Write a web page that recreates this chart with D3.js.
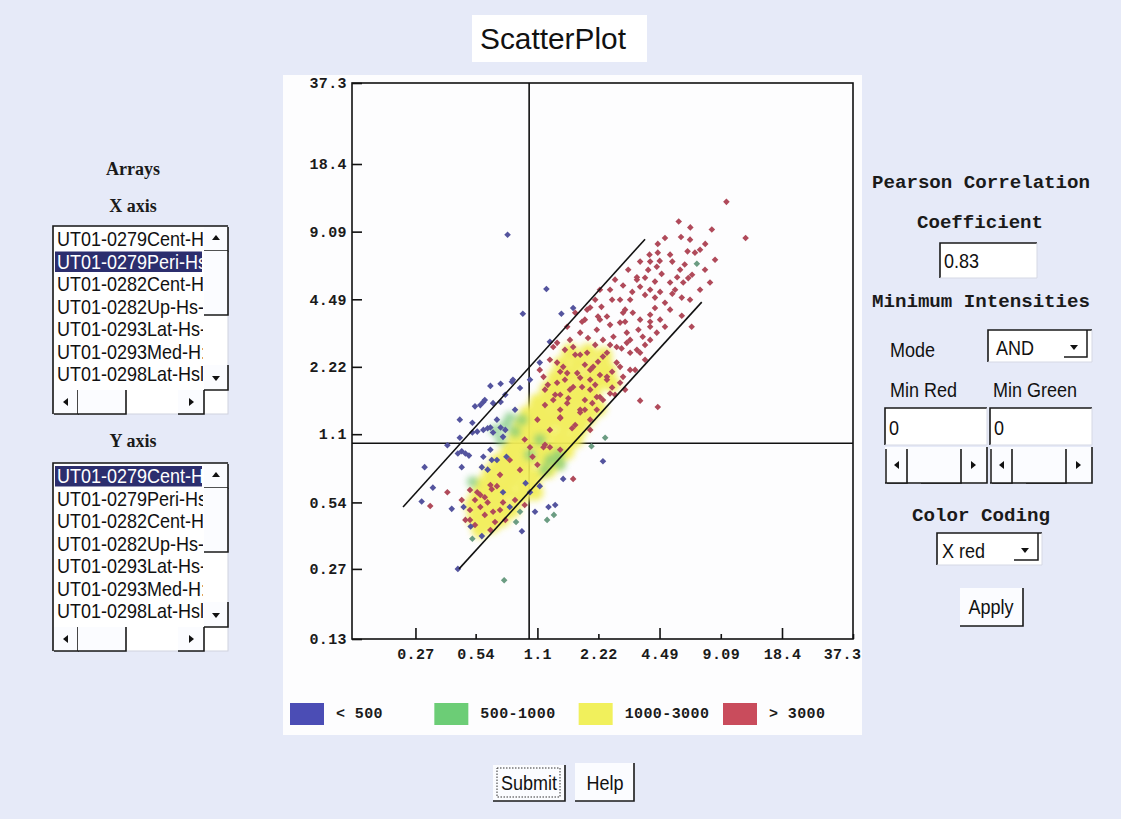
<!DOCTYPE html>
<html>
<head>
<meta charset="utf-8">
<script src="https://cdn.jsdelivr.net/npm/d3@7"></script>
<style>
body { margin: 0; background: #e6eaf8; }
</style>
</head>
<body>
<script>
// tick labels (the x axis has no label at its origin)
var yTickValues = [0.13, 0.27, 0.54, 1.1, 2.22, 4.49, 9.09, 18.4, 37.3];
var xTickValues = [0.27, 0.54, 1.1, 2.22, 4.49, 9.09, 18.4, 37.3];

// legend
var legendLabels = ["< 500", "500-1000", "1000-3000", "> 3000"];
var legendColors = ["#4b4db5", "#6ccd76", "#f1f05c", "#c94c5c"];

// arrays in the two list boxes
var arrayNames = ["UT01-0279Cent-H", "UT01-0279Peri-Hs", "UT01-0282Cent-H", "UT01-0282Up-Hs-",
  "UT01-0293Lat-Hs-", "UT01-0293Med-H:", "UT01-0298Lat-Hsl"];

var pearson = "0.83";

// reference lines: ratio 1 cross and the two fold lines
var centerValue = 1;
var foldLines = [[[0.234, 0.515], [3.8, 8.4]], [[0.446, 0.27], [7.3, 4.36]]];

// spots, [x, y]
var redPoints = [[9.7,12.4],[5.6,10.1],[6.4,9.5],[8.2,9.3],[5.75,8.6],[12.1,8.5],[7.6,8.0],[4.4,8.0],
  [4.0,7.15],[4.4,7.3],[5.07,7.15],[6.2,7.4],[6.75,7.3],[4.5,6.7],[6.0,6.45],[4.35,6.3],[3.94,6.1],
  [4.6,5.85],[3.46,5.65],[5.5,5.65],[6.53,5.8],[6.25,5.6],[5.07,5.35],[5.9,5.35],[8.03,5.35],
  [3.59,5.12],[4.03,4.96],[4.52,4.85],[3.8,4.7],[4.26,4.57],[5.2,4.76],[5.8,4.57],[4.78,4.33],
  [4.26,4.1],[5.8,3.78],[6.5,3.37],[4.78,3.37],[3.59,3.63],[4.03,3.37],[3.59,1.56],[4.4,1.46],
  [2.95,5.18],[3.46,5.5],[2.54,4.96],[3.2,4.47],[2.85,4.47],[3.02,4.03],[2.02,4.12],[2.3,4.15],
  [1.95,4.03],[2.45,3.75],[2.85,3.52],[3.3,3.9],[2.95,3.9],[3.7,3.04],[4.35,3.17],[3.08,3.17],
  [2.74,2.73],[3.2,2.57],[2.45,2.57],[2.09,2.22],[2.85,2.22],[3.59,2.57],[2.95,2.0],[2.45,1.94],
  [2.02,1.94],[1.66,1.8],[2.26,1.62],[1.8,1.38],[1.38,2.32],[1.55,2.08],[1.32,2.73],[1.55,3.37],
  [1.8,3.17],[2.18,3.27],[2.64,3.04],[3.08,2.85],[3.46,2.65],[1.38,2.85],[1.66,2.73],[1.95,2.57],
  [2.34,2.47],[2.74,2.32],[3.2,2.15],[1.27,2.39],[1.48,2.22],[1.74,2.08],[2.02,2.15],[2.45,2.0],
  [2.85,1.88],[1.18,2.0],[1.38,1.88],[1.6,1.75],[1.84,1.8],[2.18,1.62],[2.54,1.68],[1.13,2.15],
  [1.32,1.57],[1.55,1.52],[1.8,1.42],[2.07,1.52],[2.34,1.57],[1.7,3.9],[1.66,0.69],[1.04,0.87],
  [1.18,0.96],[1.27,0.96],[1.01,0.96],[0.55,0.6],[0.6,0.57],[0.65,0.62],[0.69,0.64],[0.57,0.515],
  [0.62,0.54],[0.66,0.49],[0.74,0.54],[0.6,0.474],[0.536,0.554],[0.675,0.44],[0.506,0.45],
  [0.39,0.6],[0.32,0.52],[1.43,1.3],[2.18,1.42],[2.26,3.63],[1.9,3.63],[2.14,2.79],[2.54,2.79],
  [1.7,2.52],[1.51,2.65],[1.9,2.27],[2.26,2.04],[2.69,1.66],[3.02,1.75],[2.02,1.75],[1.43,1.66],
  [1.2,1.75],[1.7,1.21],[2.02,1.28],[1.43,1.42],[3.2,2.94],[3.8,2.79],[4.03,3.82],[4.52,3.63],
  [5.07,4.03],[4.03,2.94],
  [2.26,4.96],[2.69,5.51],[3.13,6.11],[3.59,6.65],[4.03,6.65],[3.8,5.62],[4.26,5.4],[3.28,4.85],
  [2.6,4.47],[2.14,4.47],[1.84,3.55],[2.21,3.75],[2.54,3.44],[3.02,3.55],[3.52,3.27],[4.03,3.55],
  [1.6,2.94],[1.97,3.0],[2.34,2.94],[2.9,2.69],[3.8,2.39],[3.39,2.15],[1.8,2.52],[2.21,2.34],
  [2.6,2.11],[1.51,1.94],[1.8,1.98],[2.14,1.84],[2.6,1.79],[1.24,1.84],[1.43,2.11],[1.35,1.66],
  [1.57,1.6],[1.9,1.57],[1.2,1.49],[1.43,1.31],[1.64,1.17],[1.9,1.42],[2.02,1.15],[1.27,1.15],
  [1.1,1.28],[0.95,1.04],[1.2,0.985],[1.43,0.935],[1.1,0.8],[0.9,0.758],[0.8,0.84],[0.715,0.72],
  [0.64,0.648],[0.57,0.584],[0.506,0.499],[0.536,0.427],[0.64,0.405],[0.76,0.45],[0.715,0.499],
  [0.85,0.554],[0.95,0.526],[0.506,0.615],[0.46,0.554],[0.48,0.45],
  [7.16,7.53],[8.51,6.78],[7.16,4.96],[6.38,4.47],[5.37,4.96],[6.38,8.36],[4.78,8.5],[5.2,6.65],
  [5.69,6.11],[7.58,6.11]];

var bluePoints = [[0.78,8.8],[1.22,5.0],[1.45,3.86],[0.93,3.86],[1.27,2.88],[1.13,2.32],[0.64,1.82],
  [0.72,1.86],[0.82,1.9],[1.01,1.94],[0.9,1.78],[0.83,1.94],[0.57,1.49],[0.6,1.57],[0.66,1.52],
  [0.536,1.47],[0.59,1.54],[0.72,1.54],[0.45,1.28],[0.52,1.24],[0.64,1.18],[0.69,1.28],[0.59,1.15],
  [0.66,1.12],[0.72,1.18],[0.76,1.15],[0.39,0.98],[0.45,1.06],[0.52,1.12],[0.55,1.13],[0.62,1.17],
  [0.46,0.92],[0.3,0.78],[0.46,0.78],[0.33,0.63],[0.29,0.545],[0.41,0.505],[0.47,0.515],[0.44,0.9],
  [0.48,0.9],[0.5,0.88],[0.58,0.78],[0.62,0.76],[0.65,0.84],[0.74,0.6],[0.8,0.515],[0.51,0.42],
  [0.58,0.38],[0.44,0.27],[0.92,0.4],[1.07,0.49],[1.25,0.515],[1.35,0.526],[1.48,0.69],[2.34,0.83],
  [0.96,0.66],[1.01,0.6],[1.13,0.64],[0.74,1.07],[0.64,0.935],[0.69,0.84],[0.77,0.87],[0.59,0.87],
  [0.85,1.42],[0.76,1.66],[1.66,4.1]];

var greenPoints = [[6.9,6.5],[2.05,0.97],[0.86,0.44],[1.23,0.45],[1.33,0.474],[0.52,0.37],
  [0.75,0.24],[0.9,0.49],[2.4,1.06]];

// the dense, washed-out part of the cloud
var greenCloud = [[0.76,1.21],[0.85,1.13],[0.72,1.04],[0.8,1.31],[0.92,1.28],[0.675,1.15],
  [1.27,0.84],[1.43,0.8],[1.2,0.758],[1.4,0.888],[1.01,0.888],[0.52,0.67],[1.13,1.04]];

var yellowCloud = [[0.568,0.405],[0.65,0.427],[0.536,0.455],[0.62,0.474],[0.73,0.455],[0.52,0.526],
  [0.6,0.51],[0.7,0.526],[0.82,0.499],[0.555,0.584],[0.65,0.57],[0.77,0.6],[0.9,0.57],[0.58,0.648],
  [0.68,0.655],[0.8,0.67],[0.95,0.635],[1.07,0.6],[0.64,0.735],[0.76,0.758],[0.9,0.745],[1.07,0.71],
  [1.24,0.758],[0.7,0.825],[0.82,0.841],[0.97,0.825],[1.15,0.86],[1.36,0.825],[0.79,0.935],
  [0.92,0.955],[1.1,0.975],[1.3,0.935],[1.53,0.915],[0.85,1.06],[1.01,1.08],[1.2,1.1],[1.43,1.06],
  [1.7,1.04],[0.9,1.2],[1.07,1.22],[1.27,1.25],[1.51,1.2],[1.8,1.17],[0.98,1.36],[1.17,1.39],
  [1.4,1.36],[1.66,1.33],[1.97,1.31],[1.1,1.54],[1.32,1.57],[1.57,1.54],[1.86,1.51],[2.21,1.44],
  [1.24,1.75],[1.48,1.79],[1.76,1.72],[2.09,1.69],[1.35,1.98],[1.6,2.02],[1.9,1.94],[2.26,1.9],
  [2.6,1.86],[1.45,2.27],[1.76,2.29],[2.11,2.2],[2.48,2.15],[1.6,2.6],[1.97,2.6],[2.37,2.5]];

var svg = d3.select("body").append("svg")
  .attr("width", 1121).attr("height", 819)
  .style("display", "block");

var defs = svg.append("defs");
defs.append("filter").attr("id", "soft")
  .attr("x", "-20%").attr("y", "-20%").attr("width", "140%").attr("height", "140%")
  .append("feGaussianBlur").attr("stdDeviation", 3.2);
defs.append("clipPath").attr("id", "plotClip")
  .append("rect").attr("x", 352).attr("y", 83).attr("width", 501).attr("height", 556);

svg.append("rect").attr("width", 1121).attr("height", 819).attr("fill", "#e6eaf8");

var sans = "'Liberation Sans', Arial, sans-serif";
var mono = "'Liberation Mono', 'Courier New', monospace";
var serif = "'Liberation Serif', 'Times New Roman', serif";

// ---------- helpers for the little window widgets ----------
function sunken(x0, y0, w, h) {
  var g = svg.append("g");
  g.append("rect").attr("x", x0).attr("y", y0).attr("width", w).attr("height", h).attr("fill", "#fff");
  g.append("path").attr("d", "M" + x0 + "," + (y0 + h) + "V" + y0 + "H" + (x0 + w))
    .attr("fill", "none").attr("stroke", "#1a1a1a").attr("stroke-width", 1.6);
  g.append("path").attr("d", "M" + (x0 + w) + "," + y0 + "V" + (y0 + h) + "H" + x0)
    .attr("fill", "none").attr("stroke", "#d5d8e4").attr("stroke-width", 1);
  return g;
}
function raised(x0, y0, w, h) {
  var g = svg.append("g");
  g.append("rect").attr("x", x0).attr("y", y0).attr("width", w).attr("height", h).attr("fill", "#fbfcff");
  g.append("path").attr("d", "M" + (x0 + w) + "," + y0 + "V" + (y0 + h) + "H" + x0)
    .attr("fill", "none").attr("stroke", "#1a1a1a").attr("stroke-width", 1.6);
  return g;
}
function arrow(cx, cy, dir) {
  var s = 4;
  var d = {
    up: "M" + (cx - s) + "," + (cy + 2) + "L" + cx + "," + (cy - 3) + "L" + (cx + s) + "," + (cy + 2) + "Z",
    down: "M" + (cx - s) + "," + (cy - 2) + "L" + cx + "," + (cy + 3) + "L" + (cx + s) + "," + (cy - 2) + "Z",
    left: "M" + (cx + 2) + "," + (cy - s) + "L" + (cx - 3) + "," + cy + "L" + (cx + 2) + "," + (cy + s) + "Z",
    right: "M" + (cx - 2) + "," + (cy - s) + "L" + (cx + 3) + "," + cy + "L" + (cx - 2) + "," + (cy + s) + "Z"
  }[dir];
  svg.append("path").attr("d", d).attr("fill", "#111");
}
function uiText(str, x0, y0, anchor) {
  return svg.append("text")
    .attr("transform", "translate(" + x0 + "," + y0 + ") scale(0.9,1)")
    .attr("text-anchor", anchor || "start")
    .attr("font-family", sans).attr("font-size", 20).attr("fill", "#111")
    .text(str);
}
function monoHead(str, cx, y0, w) {
  svg.append("text").attr("x", cx).attr("y", y0).attr("text-anchor", "middle")
    .attr("font-family", mono).attr("font-weight", "bold").attr("font-size", 18)
    .attr("textLength", w).attr("lengthAdjust", "spacingAndGlyphs")
    .attr("fill", "#1a1a1a").text(str);
}
function serifHead(str, cx, y0) {
  svg.append("text").attr("x", cx).attr("y", y0).attr("text-anchor", "middle")
    .attr("font-family", serif).attr("font-weight", "bold").attr("font-size", 18)
    .attr("fill", "#1a1a1a").text(str);
}

// ---------- title ----------
svg.append("rect").attr("x", 472).attr("y", 15).attr("width", 175).attr("height", 47).attr("fill", "#fff");
svg.append("text").attr("x", 553).attr("y", 49).attr("text-anchor", "middle")
  .attr("font-family", sans).attr("font-size", 30).attr("textLength", 146)
  .attr("lengthAdjust", "spacingAndGlyphs").attr("fill", "#111").text("ScatterPlot");

// ---------- plot panel ----------
svg.append("rect").attr("x", 283).attr("y", 75).attr("width", 579).attr("height", 660).attr("fill", "#fdfdfe");

var x = d3.scaleLog().domain([0.13, 18.4, 37.3]).range([352, 782, 853]);
var y = d3.scaleLog().domain([0.13, 18.4, 37.3]).range([639, 164, 83]);

var plot = svg.append("g");
var inner = plot.append("g").attr("clip-path", "url(#plotClip)");

// ratio-1 cross
inner.append("line").attr("x1", x(centerValue)).attr("x2", x(centerValue))
  .attr("y1", y.range()[0]).attr("y2", y.range()[2])
  .attr("stroke", "#111").attr("stroke-width", 1.6);
inner.append("line").attr("y1", y(centerValue)).attr("y2", y(centerValue))
  .attr("x1", x.range()[0]).attr("x2", x.range()[2])
  .attr("stroke", "#111").attr("stroke-width", 1.6);

// washed-out core of the cloud
inner.append("g").attr("filter", "url(#soft)").attr("opacity", 0.95)
  .selectAll("circle").data(yellowCloud).enter().append("circle")
  .attr("cx", function(d) { return x(d[0]); })
  .attr("cy", function(d) { return y(d[1]); })
  .attr("r", 8.5).attr("fill", "#f2ee58");
inner.append("g").attr("filter", "url(#soft)").attr("opacity", 0.75)
  .selectAll("circle").data(greenCloud).enter().append("circle")
  .attr("cx", function(d) { return x(d[0]); })
  .attr("cy", function(d) { return y(d[1]); })
  .attr("r", 5.5).attr("fill", "#78c879");

var diamond = "M0,-3.3L3.3,0L0,3.3L-3.3,0Z";
function spots(data, color) {
  inner.append("g").selectAll("path").data(data).enter().append("path")
    .attr("d", diamond)
    .attr("transform", function(d) { return "translate(" + x(d[0]) + "," + y(d[1]) + ")"; })
    .attr("fill", color);
}
spots(greenPoints, "#6b9c82");
spots(redPoints, "#b04a5a");
spots(bluePoints, "#54549e");

// fold lines
var line = d3.line().x(function(d) { return x(d[0]); }).y(function(d) { return y(d[1]); });
inner.selectAll(".fold").data(foldLines).enter().append("path")
  .attr("d", line).attr("fill", "none").attr("stroke", "#111").attr("stroke-width", 1.6);

// frame
plot.append("rect").attr("x", 352).attr("y", 83).attr("width", 501).attr("height", 556)
  .attr("fill", "none").attr("stroke", "#111").attr("stroke-width", 1.6);

// axes
var yAxis = plot.append("g").attr("transform", "translate(352,0)")
  .call(d3.axisLeft(y).tickValues(yTickValues).tickSize(-10).tickPadding(5)
    .tickFormat(function(d) { return d; }));
var xAxis = plot.append("g").attr("transform", "translate(0,639)")
  .call(d3.axisBottom(x).tickValues(xTickValues).tickSize(-10).tickPadding(9)
    .tickFormat(function(d) { return d; }));
[xAxis, yAxis].forEach(function(a) {
  a.select(".domain").remove();
  a.selectAll("line").attr("stroke", "#111").attr("stroke-width", 1.6);
  a.selectAll("text").attr("font-family", mono).attr("font-weight", "bold")
    .attr("font-size", 15).attr("letter-spacing", 0.4).attr("fill", "#1a1a1a");
});
xAxis.selectAll(".tick line").attr("y2", function(d, i) { return i % 2 ? -5 : -11; });
xAxis.selectAll(".tick text").attr("dx", function(d, i) { return i === xTickValues.length - 1 ? -11 : 0; });

// legend
var legendX = d3.scaleLinear().domain([0, legendLabels.length - 1]).range([290, 723]);
var legend = svg.append("g").selectAll("g").data(legendLabels).enter().append("g")
  .attr("transform", function(d, i) { return "translate(" + legendX(i) + ",703)"; });
legend.append("rect").attr("width", 34).attr("height", 22)
  .attr("fill", function(d, i) { return legendColors[i]; });
legend.append("text").attr("x", 46).attr("y", 15)
  .attr("font-family", mono).attr("font-weight", "bold").attr("font-size", 15)
  .attr("letter-spacing", 0.4).attr("fill", "#1a1a1a")
  .text(function(d) { return d; });

// ---------- left column: array lists ----------
function listBox(x0, y0, selected, clipId) {
  var w = 175, h = 188, bar = 24, rowH = 22.5;
  svg.append("rect").attr("x", x0).attr("y", y0).attr("width", w).attr("height", h)
    .attr("fill", "#fff").attr("stroke", "#cfd2de");
  svg.append("path").attr("d", "M" + x0 + "," + (y0 + h) + "V" + y0 + "H" + (x0 + w))
    .attr("fill", "none").attr("stroke", "#1a1a1a").attr("stroke-width", 1.6);
  defs.append("clipPath").attr("id", clipId).append("rect")
    .attr("x", x0 + 1).attr("y", y0 + 1).attr("width", w - bar - 2).attr("height", h - bar - 2);
  var g = svg.append("g").attr("clip-path", "url(#" + clipId + ")");
  g.append("rect").attr("x", x0 + 2).attr("y", y0 + 3 + selected * rowH)
    .attr("width", w - bar - 4).attr("height", rowH - 2).attr("fill", "#2c2e6e");
  g.selectAll("text").data(arrayNames).enter().append("text")
    .attr("transform", function(d, i) {
      return "translate(" + (x0 + 4) + "," + (y0 + 20 + i * rowH) + ") scale(0.9,1)";
    })
    .attr("font-family", sans).attr("font-size", 20)
    .attr("fill", function(d, i) { return i === selected ? "#fff" : "#111"; })
    .text(function(d) { return d; });
  // vertical scrollbar
  var sx = x0 + w - bar;
  raised(sx, y0 + 1, bar, 24); arrow(sx + 12, y0 + 12, "up");
  raised(sx, y0 + 25, bar, 64);
  raised(sx, y0 + h - bar - 25, bar, 25); arrow(sx + 12, y0 + h - bar - 12, "down");
  // horizontal scrollbar
  var sy = y0 + h - bar;
  raised(x0 + 1, sy, 24, bar); arrow(x0 + 13, sy + 12, "left");
  raised(x0 + 25, sy, 48, bar);
  raised(sx - 26, sy, 26, bar); arrow(sx - 13, sy + 12, "right");
}

serifHead("Arrays", 133, 175);
serifHead("X axis", 133, 212);
listBox(53, 226, 1, "listX");
serifHead("Y axis", 133, 447);
listBox(53, 463, 0, "listY");

// ---------- right column: controls ----------
monoHead("Pearson Correlation", 981, 188, 218);
monoHead("Coefficient", 980, 228, 126);
sunken(940, 243, 97, 35);
uiText(pearson, 944, 268);
monoHead("Minimum Intensities", 981, 307, 218);

uiText("Mode", 890, 357);
sunken(988, 330, 104, 32);
uiText("AND", 996, 355);
arrow(1074, 347, "down");
svg.append("path").attr("d", "M1064,357H1087V330").attr("fill", "none").attr("stroke", "#1a1a1a").attr("stroke-width", 1.5);

uiText("Min Red", 890, 397);
uiText("Min Green", 993, 397);
sunken(885, 408, 102, 37); uiText("0", 889, 435);
sunken(990, 408, 102, 37); uiText("0", 994, 435);
[885, 990].forEach(function(sx) {
  raised(sx, 447, 102, 36);
  svg.append("path").attr("d", "M" + (sx + 1) + ",483V449").attr("stroke", "#1a1a1a").attr("stroke-width", 1.5);
  raised(sx + 2, 449, 20, 34); arrow(sx + 12, 465, "left");
  raised(sx + 36, 449, 40, 34); arrow(sx + 88, 465, "right");
});

monoHead("Color Coding", 981, 521, 138);
sunken(937, 533, 105, 32);
uiText("X red", 942, 558);
arrow(1025, 550, "down");
svg.append("path").attr("d", "M1014,560H1038V533").attr("fill", "none").attr("stroke", "#1a1a1a").attr("stroke-width", 1.5);

raised(960, 588, 63, 38);
uiText("Apply", 991, 614, "middle");

// ---------- bottom buttons ----------
raised(493, 765, 72, 36);
svg.append("rect").attr("x", 497).attr("y", 768).attr("width", 63).attr("height", 29)
  .attr("fill", "none").attr("stroke", "#333").attr("stroke-dasharray", "1.5,1.5");
uiText("Submit", 529, 790, "middle");
raised(575, 763, 59, 38);
uiText("Help", 605, 790, "middle");
</script>
</body>
</html>
